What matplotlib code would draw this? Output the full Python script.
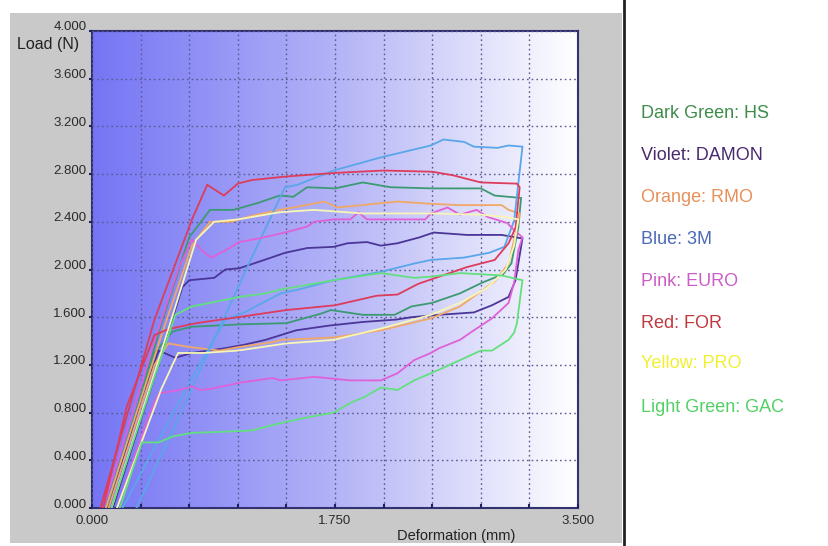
import numpy as np
import matplotlib
matplotlib.use("Agg")
import matplotlib.pyplot as plt
import matplotlib.transforms as mtransforms
from matplotlib.colors import LinearSegmentedColormap
from matplotlib.patches import Rectangle
from matplotlib.lines import Line2D

# ---------------- data (Deformation mm, Load N) ----------------
labels = ["Dark Green: HS", "Violet: DAMON", "Orange: RMO", "Blue: 3M",
          "Pink: EURO", "Red: FOR", "Yellow: PRO", "Light Green: GAC"]

hs_x = [0.12, 0.50, 0.70, 0.85, 1.02, 1.20, 1.35, 1.45, 1.55, 1.75, 1.95, 2.15, 2.45, 2.80, 2.90, 3.09,
        3.07, 3.02, 2.96, 2.81, 2.65, 2.45, 2.30, 2.18, 1.95, 1.72, 1.65, 1.40, 1.07, 0.72, 0.58, 0.45, 0.10]
hs_y = [0.00, 1.55, 2.27, 2.50, 2.50, 2.56, 2.62, 2.61, 2.69, 2.68, 2.73, 2.69, 2.68, 2.68, 2.62, 2.60,
        2.35, 2.05, 1.96, 1.89, 1.80, 1.72, 1.69, 1.62, 1.62, 1.66, 1.63, 1.55, 1.54, 1.52, 1.48, 1.30, 0.00]

damon_x = [0.15, 0.45, 0.65, 0.70, 0.88, 0.96, 1.06, 1.24, 1.39, 1.55, 1.74, 1.84, 1.98, 2.08, 2.20, 2.36, 2.46, 2.70, 2.95, 3.10,
           3.05, 3.00, 2.88, 2.75, 2.50, 2.30, 2.19, 1.95, 1.71, 1.47, 1.25, 1.10, 0.96, 0.72, 0.60, 0.48, 0.35, 0.12]
damon_y = [0.00, 1.10, 1.85, 1.91, 1.93, 2.00, 2.01, 2.08, 2.14, 2.18, 2.19, 2.22, 2.23, 2.20, 2.22, 2.27, 2.31, 2.29, 2.29, 2.26,
           1.91, 1.77, 1.70, 1.64, 1.62, 1.60, 1.58, 1.56, 1.53, 1.49, 1.41, 1.37, 1.34, 1.30, 1.26, 1.32, 0.90, 0.00]

rmo_x = [0.10, 0.50, 0.72, 0.85, 1.00, 1.15, 1.35, 1.45, 1.67, 1.77, 2.20, 2.45, 2.65, 2.95, 3.00, 3.08,
         3.05, 3.00, 2.90, 2.65, 2.44, 2.08, 1.74, 1.36, 1.30, 1.06, 0.92, 0.70, 0.55, 0.45, 0.12]
rmo_y = [0.00, 1.45, 2.20, 2.40, 2.40, 2.45, 2.50, 2.52, 2.57, 2.52, 2.57, 2.55, 2.54, 2.54, 2.50, 2.47,
         2.30, 2.05, 1.90, 1.69, 1.59, 1.49, 1.43, 1.41, 1.39, 1.35, 1.32, 1.35, 1.38, 1.20, 0.00]

m3_x = [0.32, 0.60, 0.91, 1.15, 1.39, 1.48, 1.74, 2.08, 2.44, 2.53, 2.68, 2.75, 2.92, 3.00, 3.10,
        3.04, 2.97, 2.86, 2.68, 2.44, 2.32, 2.08, 1.74, 1.48, 1.36, 1.08, 0.96, 0.70, 0.22]
m3_y = [0.00, 0.70, 1.49, 2.10, 2.69, 2.71, 2.83, 2.94, 3.04, 3.09, 3.07, 3.03, 3.02, 3.04, 3.03,
        2.41, 2.19, 2.14, 2.10, 2.08, 2.05, 1.98, 1.91, 1.83, 1.80, 1.63, 1.58, 1.05, 0.00]

euro_x = [0.08, 0.45, 0.62, 0.72, 0.80, 0.86, 0.96, 1.06, 1.20, 1.39, 1.55, 1.60, 1.74, 1.86, 1.92, 1.98, 2.40, 2.44,
          2.56, 2.65, 2.77, 2.85, 2.99, 3.04, 3.10,
          3.07, 3.04, 3.00, 2.88, 2.75, 2.65, 2.50, 2.44, 2.32, 2.20, 2.08, 1.86, 1.60, 1.36, 1.30, 1.06, 0.86, 0.78,
          0.72, 0.63, 0.48, 0.40, 0.18]
euro_y = [0.00, 1.40, 2.00, 2.25, 2.15, 2.10, 2.16, 2.23, 2.26, 2.31, 2.36, 2.40, 2.42, 2.42, 2.48, 2.42, 2.42, 2.47,
          2.52, 2.46, 2.50, 2.44, 2.39, 2.33, 2.27,
          2.16, 1.89, 1.72, 1.59, 1.49, 1.41, 1.34, 1.30, 1.24, 1.13, 1.07, 1.07, 1.10, 1.07, 1.09, 1.05, 1.00, 0.99,
          1.02, 0.99, 0.96, 0.75, 0.00]

for_x = [0.06, 0.45, 0.72, 0.83, 0.95, 1.05, 1.15, 1.40, 1.75, 2.10, 2.45, 2.60, 2.80, 3.06, 3.08,
         3.05, 3.00, 2.90, 2.70, 2.50, 2.35, 2.20, 2.05, 1.75, 1.40, 1.05, 0.75, 0.55, 0.45, 0.25, 0.08]
for_y = [0.00, 1.58, 2.42, 2.71, 2.62, 2.72, 2.75, 2.78, 2.81, 2.83, 2.82, 2.79, 2.73, 2.72, 2.69,
         2.35, 2.22, 2.08, 2.02, 1.94, 1.88, 1.79, 1.78, 1.70, 1.66, 1.60, 1.55, 1.50, 1.45, 0.85, 0.00]

pro_x = [0.14, 0.55, 0.75, 0.88, 1.05, 1.35, 1.60, 1.95, 2.20, 2.45, 2.80, 2.98, 3.07,
         3.04, 2.98, 2.85, 2.65, 2.44, 2.10, 1.74, 1.40, 1.05, 0.80, 0.62, 0.50, 0.18]
pro_y = [0.00, 1.50, 2.25, 2.40, 2.42, 2.48, 2.50, 2.47, 2.47, 2.47, 2.46, 2.44, 2.42,
         2.20, 2.00, 1.85, 1.72, 1.62, 1.51, 1.41, 1.38, 1.32, 1.30, 1.30, 1.00, 0.00]

gac_x = [0.14, 0.45, 0.60, 0.72, 0.85, 1.06, 1.25, 1.35, 1.74, 2.08, 2.32, 2.44, 2.65, 2.95, 3.10,
         3.06, 3.04, 3.00, 2.88, 2.80, 2.65, 2.50, 2.44, 2.32, 2.20, 2.08, 1.96, 1.86, 1.74, 1.55, 1.35, 1.15,
         0.96, 0.72, 0.58, 0.48, 0.36, 0.30, 0.20]
gac_y = [0.00, 1.10, 1.62, 1.69, 1.72, 1.77, 1.80, 1.83, 1.91, 1.97, 1.93, 1.94, 1.97, 1.95, 1.91,
         1.55, 1.47, 1.41, 1.32, 1.32, 1.24, 1.16, 1.13, 1.07, 0.99, 1.01, 0.93, 0.88, 0.80, 0.76, 0.71, 0.65,
         0.64, 0.63, 0.60, 0.55, 0.55, 0.35, 0.00]

series_x = [hs_x, damon_x, rmo_x, m3_x, euro_x, for_x, pro_x, gac_x]
series_y = [hs_y, damon_y, rmo_y, m3_y, euro_y, for_y, pro_y, gac_y]
line_colors = ["#3c9a72", "#4b3597", "#f0a866", "#5aa6ea", "#e060d8", "#de3c5c", "#f8f6b4", "#62e07e"]
text_colors = ["#3d8c4a", "#4a2a6e", "#e8905a", "#4a6ab8", "#cc5cc8", "#c03a3e", "#f0f030", "#52d064"]

y_ticks = [0.0, 0.4, 0.8, 1.2, 1.6, 2.0, 2.4, 2.8, 3.2, 3.6, 4.0]
y_tick_labels = ["0.000", "0.400", "0.800", "1.200", "1.600", "2.000", "2.400", "2.800", "3.200", "3.600", "4.000"]
x_ticks = [0.0, 0.35, 0.7, 1.05, 1.4, 1.75, 2.1, 2.45, 2.8, 3.15, 3.5]
x_tick_labels = ["0.000", "", "", "", "", "1.750", "", "", "", "", "3.500"]

# ---------------- figure ----------------
W, H = 829, 546
fig = plt.figure(figsize=(W / 100, H / 100), dpi=100)
fig.patch.set_facecolor("white")

# gray panel
fig.patches.append(Rectangle((10 / W, (H - 543) / H), (622 - 10) / W, (543 - 13) / H,
                             transform=fig.transFigure, facecolor="#c9c9c9", edgecolor="none", zorder=0))
fig.add_artist(Line2D([623.5 / W, 623.5 / W], [0, 1], transform=fig.transFigure,
                      color="#222222", lw=2.0, zorder=1))

ax = fig.add_axes([92 / W, (H - 508) / H, (578 - 92) / W, (508 - 31) / H])
ax.set_zorder(2)

# horizontal gradient background
cmap = LinearSegmentedColormap.from_list("bg", [(0.0, (0.46, 0.46, 0.96)),
                                                (0.5, (0.70, 0.70, 0.97)),
                                                (1.0, (1.0, 1.0, 1.0))])
grad = np.linspace(0, 1, 256).reshape(1, -1)
ax.imshow(grad, extent=[0, 3.5, 0, 4.0], aspect="auto", cmap=cmap, zorder=0, interpolation="bilinear")

ax.set_xlim(0, 3.5)
ax.set_ylim(0, 4.0)

for x, y, c in zip(series_x, series_y, line_colors):
    ax.plot(x, y, color=c, lw=1.3, zorder=3, solid_joinstyle="miter")

ax.set_xticks(x_ticks)
ax.set_xticklabels(x_tick_labels)
ax.set_yticks(y_ticks)
ax.set_yticklabels(y_tick_labels)
ax.grid(True, color="#5a5a90", linestyle=(0, (1.2, 2.2)), lw=1.0, zorder=1)
ax.set_axisbelow(False)
for sp in ax.spines.values():
    sp.set_color("#303070")
    sp.set_linewidth(1.5)
ax.tick_params(axis="both", direction="in", color="#202060", width=1.5, length=3,
               labelsize=9.5, labelcolor="#2a2a2a", pad=5)
ax.tick_params(axis="y", direction="out", length=2, pad=2)

# y tick labels sit slightly above their ticks, as in the reference
shift_up = mtransforms.ScaledTranslation(0, 5 / 100, fig.dpi_scale_trans)
for lab in ax.get_yticklabels():
    lab.set_family("Liberation Sans")
    lab.set_transform(lab.get_transform() + shift_up)
for lab in ax.get_xticklabels():
    lab.set_family("Liberation Sans")

fig.text(48 / W, (H - 45) / H, "Load (N)", fontsize=11.5, color="#222222",
         family="Liberation Sans", ha="center", va="center")
fig.text(456 / W, (H - 536) / H, "Deformation (mm)", fontsize=10.5, color="#222222",
         family="Liberation Sans", ha="center", va="center")

leg_y = [114, 156, 197, 240, 282, 323, 364, 407]
for lab, c, yy in zip(labels, text_colors, leg_y):
    fig.text(641 / W, (H - yy) / H, lab, fontsize=13, color=c,
             family="Liberation Sans", ha="left", va="center")

fig.savefig("out.png", dpi=100)
